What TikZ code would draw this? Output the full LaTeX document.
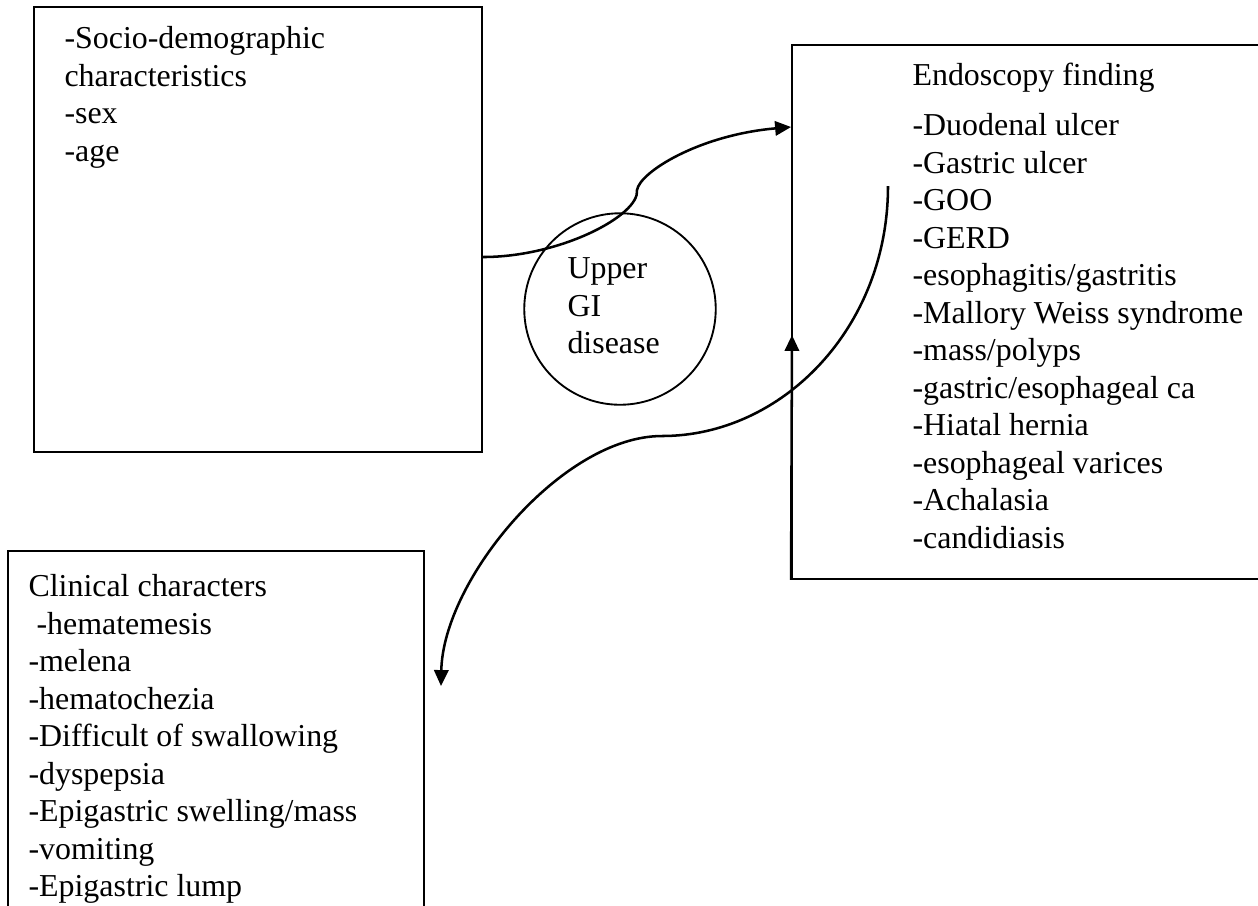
\documentclass[tikz,border=0pt]{standalone}
\usepackage{fontspec}
\setmainfont{Liberation Serif}
\usetikzlibrary{arrows.meta,fit}

\tikzset{
  box/.style={draw, line width=0.7pt, inner sep=0pt},
  txt/.style={align=left, inner sep=0pt, anchor=north west},
  link/.style={line width=0.95pt, -{Triangle[length=6pt,width=5.4pt]}}
}

\begin{document}
\begin{tikzpicture}[x=0.376pt, y=-0.376pt, font=\fontsize{12pt}{14.1pt}\selectfont]
\useasboundingbox (0,0) rectangle (1258,905);
\clip (0,0) rectangle (1258,905);

% the three boxes
\node[box, fit={(34,7) (482,452)}] (socio) {};
\node[box, fit={(792,45) (1300,579)}] (endo) {};
\node[box, fit={(8,551) (424,960)}] (clin) {};

% box texts
\node[txt] (sociotext) at (64,26) {-Socio-demographic\\characteristics\\-sex\\-age};
\node[txt] (endotext) at (912,62) {Endoscopy finding\\[5pt]
  -Duodenal ulcer\\-Gastric ulcer\\-GOO\\-GERD\\-esophagitis/gastritis\\
  -Mallory Weiss syndrome\\-mass/polyps\\-gastric/esophageal ca\\-Hiatal hernia\\
  -esophageal varices\\-Achalasia\\-candidiasis};
\node[txt] (clintext) at (28,574) {Clinical characters\\~-hematemesis\\-melena\\
  -hematochezia\\-Difficult of swallowing\\-dyspepsia\\-Epigastric swelling/mass\\
  -vomiting\\-Epigastric lump};

% circle in the middle
\node[draw, circle, line width=0.7pt, minimum size=72pt] (gi) at (620,309) {};
\node[txt, anchor=west] (gitext) at ([shift={(-53,-3)}]gi.center) {Upper\\GI\\disease};

% connectors
\coordinate (bendA) at (637,190);
\coordinate (startB) at (888,186);
\coordinate (bendB) at (662,436);
\coordinate (tipB) at (441,686);
\coordinate (tipC) at (792,335);

\draw[link] ([shift={(0,27.5)}]socio.east) .. controls +(78,0) and +(3,25) .. (bendA)
  .. controls +(3,-18) and +(-92,8) .. ([shift={(0,-185)}]endo.west);
\draw[link] (startB) .. controls +(0,142) and +(120,0) .. (bendB)
  .. controls +(-100,0) and +(2,-106) .. (tipB);
\draw[link] (endo.south west) -- (tipC);
\end{tikzpicture}
\end{document}
